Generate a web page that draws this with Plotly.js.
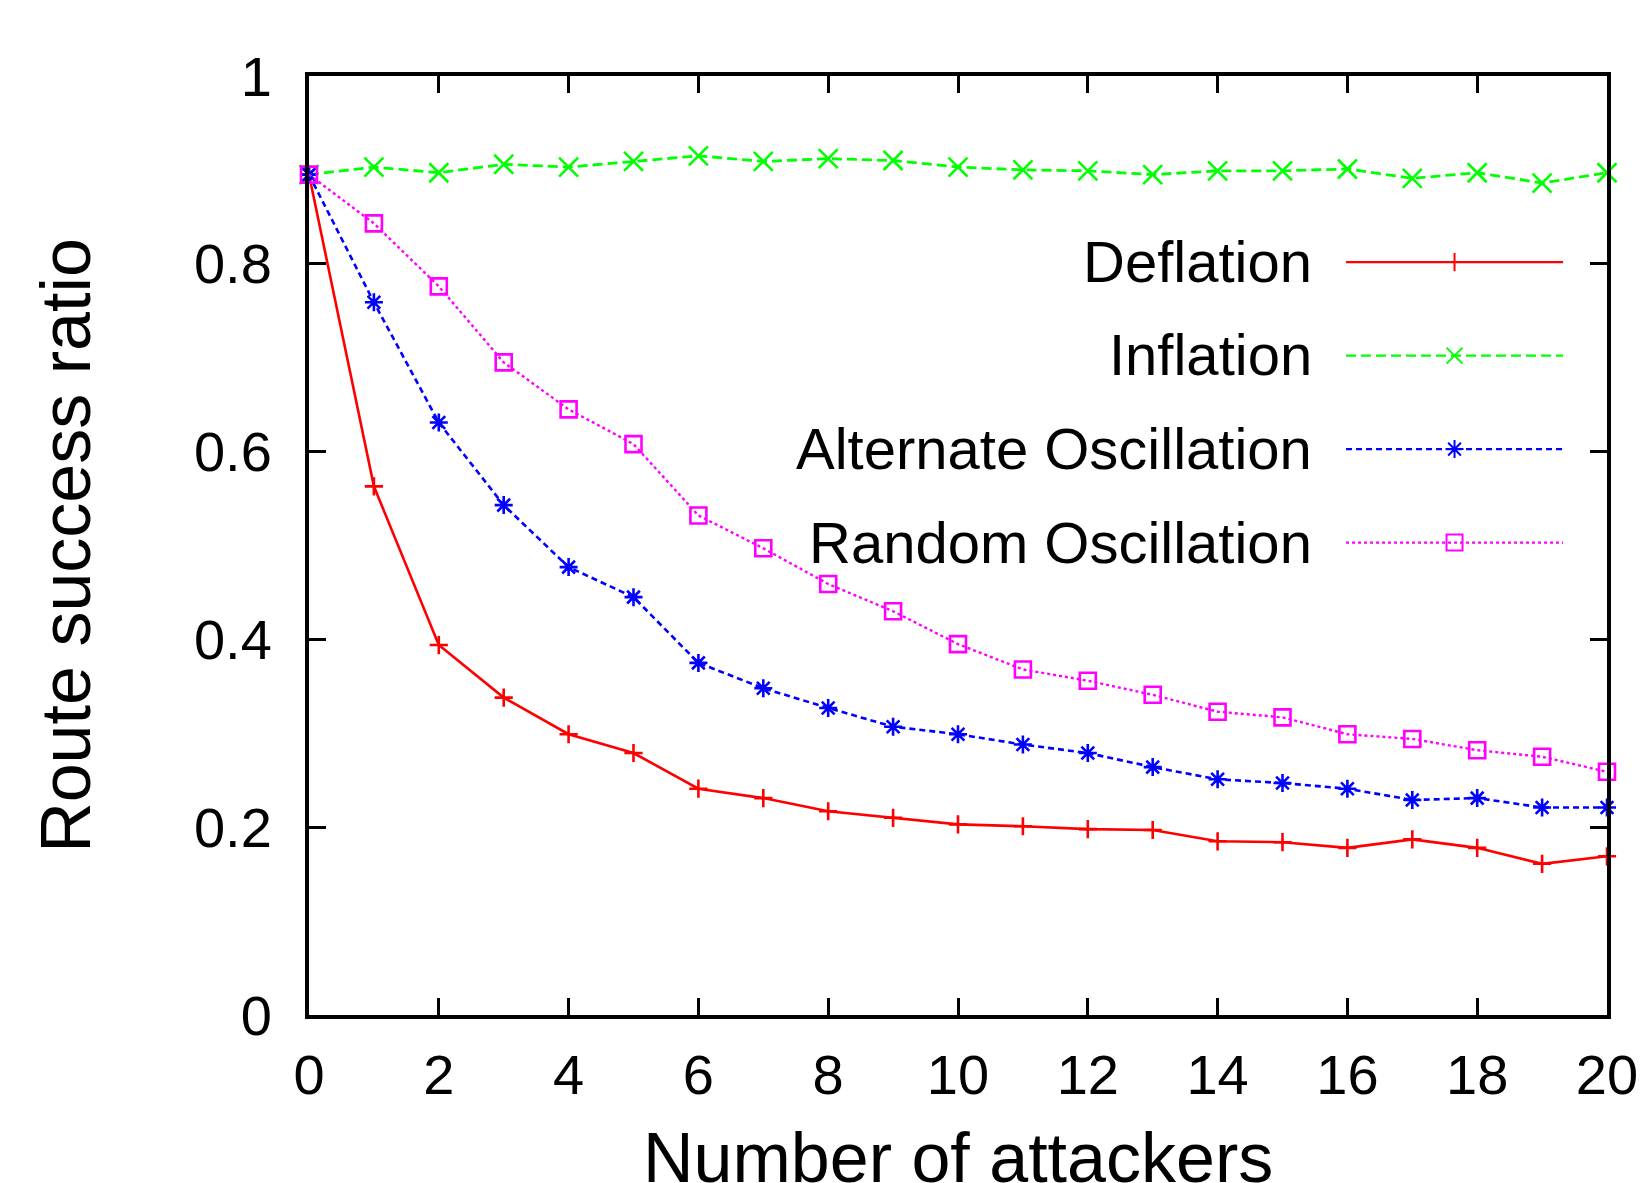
<!DOCTYPE html>
<html>
<head>
<meta charset="utf-8">
<script src="https://cdn.plot.ly/plotly-3.0.1.min.js"></script>
<style>
html, body { margin: 0; padding: 0; background: #ffffff; overflow: hidden; }
#chart { width: 1647px; height: 1183px; }
</style>
</head>
<body>
<div id="chart"></div>
<script>
// ---- data ----
const attackers = [0, 1, 2, 3, 4, 5, 6, 7, 8, 9, 10, 11, 12, 13, 14, 15, 16, 17, 18, 19, 20];
const deflation = [0.895, 0.563, 0.394, 0.338, 0.299, 0.279, 0.241, 0.231, 0.217, 0.210, 0.203, 0.201, 0.198, 0.197, 0.185, 0.184, 0.178, 0.187, 0.178, 0.161, 0.169];
const inflation = [0.895, 0.903, 0.897, 0.906, 0.903, 0.909, 0.915, 0.909, 0.912, 0.910, 0.903, 0.900, 0.899, 0.895, 0.899, 0.899, 0.901, 0.891, 0.897, 0.886, 0.897];
const alternateOscillation = [0.895, 0.759, 0.631, 0.543, 0.477, 0.445, 0.375, 0.348, 0.327, 0.307, 0.299, 0.288, 0.279, 0.264, 0.251, 0.247, 0.241, 0.229, 0.231, 0.221, 0.221];
const randomOscillation = [0.895, 0.843, 0.776, 0.695, 0.645, 0.608, 0.532, 0.497, 0.459, 0.430, 0.395, 0.368, 0.356, 0.341, 0.323, 0.317, 0.299, 0.294, 0.282, 0.275, 0.259];
const seriesNames = ['Deflation', 'Inflation', 'Alternate Oscillation', 'Random Oscillation'];
const xTickVals = [0, 2, 4, 6, 8, 10, 12, 14, 16, 18, 20];
const xTickText = ['0', '2', '4', '6', '8', '10', '12', '14', '16', '18', '20'];
const yTickVals = [0, 0.2, 0.4, 0.6, 0.8, 1];
const yTickText = ['0', '0.2', '0.4', '0.6', '0.8', '1'];
const xTitle = 'Number of attackers';
const yTitle = 'Route success ratio';

// ---- styles ----
const FONT = 'Liberation Sans, Arial, Helvetica, sans-serif';
const styles = [
  { color: '#ff0000', dash: 'solid',    width: 2.6, symbol: 'cross-thin-open', size: 13 },
  { color: '#00ff00', dash: '10px,5px', width: 2.8, symbol: 'x-thin-open',     size: 19 },
  { color: '#0000ff', dash: '6px,4px',  width: 2.6, symbol: 'asterisk-open',   size: 15 },
  { color: '#ff00ff', dash: '3px,3px',  width: 2.4, symbol: 'square-open',     size: 16 }
];
const seriesValues = [deflation, inflation, alternateOscillation, randomOscillation];

const traces = [];
seriesValues.forEach(function (vals, i) {
  const s = styles[i];
  traces.push({
    type: 'scatter', mode: 'lines+markers',
    name: seriesNames[i],
    x: attackers, y: vals,
    cliponaxis: false,
    showlegend: false,
    line: { color: s.color, width: s.width, dash: s.dash },
    marker: { symbol: s.symbol, size: s.size, color: s.color, line: { color: s.color, width: 2.6 } }
  });
});
// legend keys (symbols only, labels drawn right-aligned to their left)
seriesValues.forEach(function (vals, i) {
  const s = styles[i];
  traces.push({
    type: 'scatter', mode: 'lines+markers',
    name: ' ',
    x: [null], y: [null],
    showlegend: true,
    hoverinfo: 'skip',
    line: { color: s.color, width: 2.2, dash: s.dash },
    marker: { symbol: s.symbol, size: s.size, color: s.color, line: { color: s.color, width: 2 } }
  });
});

const rowY = [0.8024, 0.7029, 0.6033, 0.5037];
const annotations = seriesNames.map(function (n, i) {
  return {
    text: n, xref: 'paper', yref: 'paper', x: 0.7744, y: rowY[i],
    xanchor: 'right', yanchor: 'middle', showarrow: false,
    font: { family: FONT, size: 58, color: '#000000' }
  };
});
// x-axis title
annotations.push({
  text: xTitle, xref: 'paper', yref: 'paper', x: 0.5, y: -0.1085,
  xanchor: 'center', yanchor: 'top', showarrow: false,
  font: { family: FONT, size: 70, color: '#000000' }
});

const axisCommon = {
  showline: true, linewidth: 4, linecolor: '#000000',
  mirror: 'allticks', ticks: 'inside', ticklen: 17, tickwidth: 3, tickcolor: '#000000',
  showgrid: false, zeroline: false, automargin: false,
  tickfont: { family: FONT, size: 56, color: '#000000' }
};

const layout = {
  width: 1647, height: 1183,
  margin: { l: 309, r: 40, t: 76, b: 168, pad: 0 },
  paper_bgcolor: '#ffffff', plot_bgcolor: '#ffffff',
  font: { family: FONT, color: '#000000' },
  showlegend: true,
  legend: {
    x: 0.7951, y: 0.8569, xanchor: 'left', yanchor: 'top',
    bgcolor: 'rgba(0,0,0,0)', borderwidth: 0,
    itemwidth: 217, itemclick: false, itemdoubleclick: false,
    font: { family: FONT, size: 69.6, color: '#000000' }
  },
  xaxis: Object.assign({}, axisCommon, {
    range: [0, 20], tickmode: 'array', tickvals: xTickVals, ticktext: xTickText,
    ticklabelstandoff: 8
  }),
  yaxis: Object.assign({}, axisCommon, {
    range: [0, 1], tickmode: 'array', tickvals: yTickVals, ticktext: yTickText,
    ticklabelstandoff: 22,
    title: { text: yTitle, font: { family: FONT, size: 70, color: '#000000' }, standoff: 81 }
  }),
  annotations: annotations
};

Plotly.newPlot('chart', traces, layout, { staticPlot: true, displayModeBar: false });
</script>
</body>
</html>
